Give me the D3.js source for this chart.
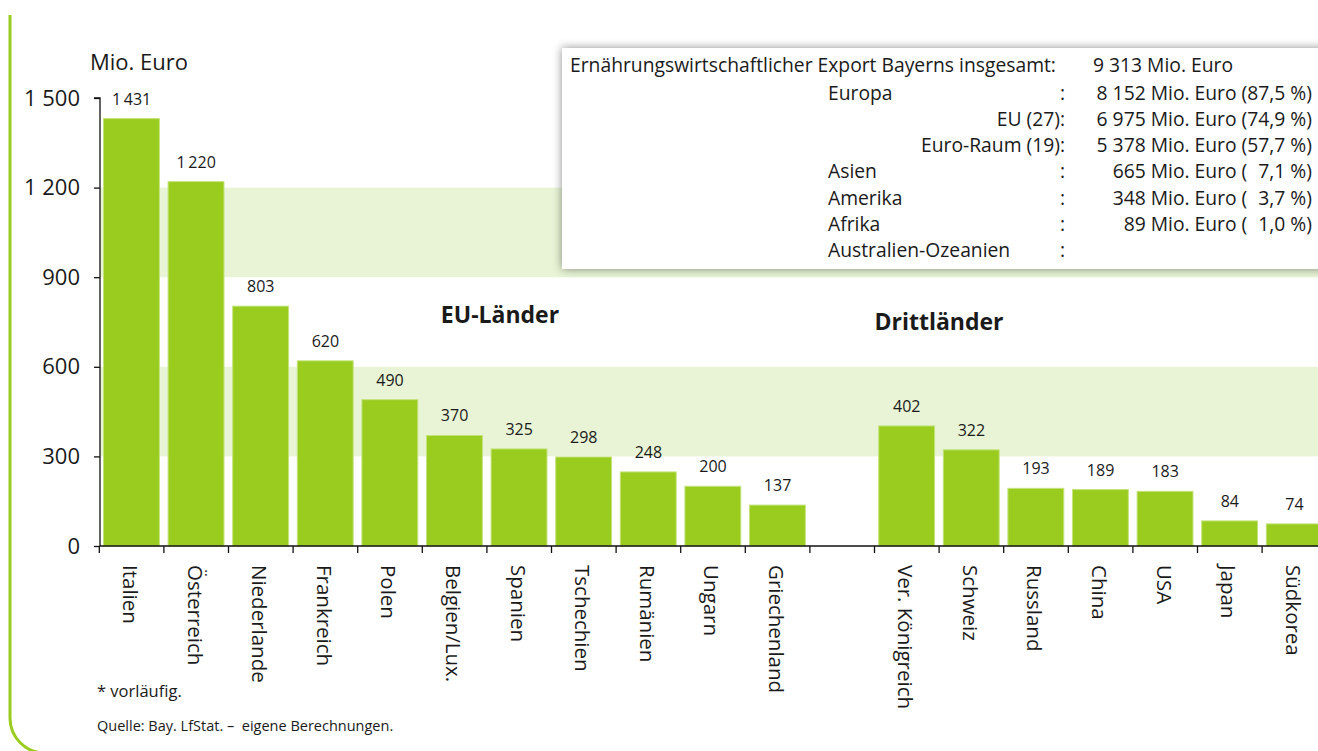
<!DOCTYPE html>
<html>
<head>
<meta charset="utf-8">
<script src="https://cdn.jsdelivr.net/npm/d3@7"></script>
<style>
  html, body { margin: 0; padding: 0; background: #ffffff; }
  svg { display: block; font-family: "Open Sans", "Noto Sans", sans-serif; }
  text { white-space: pre; fill: #1a1a1a; }
</style>
</head>
<body>
<svg id="chart" width="1318" height="751"></svg>
<script>
// ---------- data ----------
const categoriesEU = ["Italien", "Österreich", "Niederlande", "Frankreich", "Polen", "Belgien/Lux.", "Spanien", "Tschechien", "Rumänien", "Ungarn", "Griechenland"];
const valuesEU = [1431, 1220, 803, 620, 490, 370, 325, 298, 248, 200, 137];
const categoriesDritt = ["Ver. Königreich", "Schweiz", "Russland", "China", "USA", "Japan", "Südkorea"];
const valuesDritt = [402, 322, 193, 189, 183, 84, 74];
const yTicks = [0, 300, 600, 900, 1200, 1500];
const bands = [[300, 600], [900, 1200]];
const groupTitles = ["EU-Länder", "Drittländer"];
const infoLeft = ["Ernährungswirtschaftlicher Export Bayerns insgesamt:", "Europa", "", "", "Asien", "Amerika", "Afrika", "Australien-Ozeanien"];
const infoMid = ["", ":", "EU (27):", "Euro-Raum (19):", ":", ":", ":", ":"];
const infoValues = ["9 313 Mio. Euro", "8 152 Mio. Euro (87,5 %)", "6 975 Mio. Euro (74,9 %)", "5 378 Mio. Euro (57,7 %)", "665 Mio. Euro (\u20077,1 %)", "348 Mio. Euro (\u20073,7 %)", "89 Mio. Euro (\u20071,0 %)", ""];
const footnotes = ["* vorläufig.", "Quelle: Bay. LfStat. \u2013  eigene Berechnungen."];
const yUnit = "Mio. Euro";

// ---------- setup ----------
const svg = d3.select("#chart");
const W = 1318, H = 751;
const green = "#99cc1e";
const bandFill = "#e8f4d5";

const slots = [...categoriesEU, "__gap__", ...categoriesDritt];
const data = [
  ...categoriesEU.map((c, i) => ({ name: c, value: valuesEU[i] })),
  ...categoriesDritt.map((c, i) => ({ name: c, value: valuesDritt[i] }))
];

const x = d3.scaleBand().domain(slots).range([99.3, 99.3 + 19 * 64.6]).padding(0);
const y = d3.scaleLinear().domain([0, 1500]).range([546, 98]);
const loc = d3.formatLocale({ decimal: ",", thousands: "\u2009", grouping: [3], currency: ["", " €"] });
const fmtTick = d3.formatLocale({ decimal: ",", thousands: " ", grouping: [3], currency: ["", ""] }).format(",d");
const fmtVal = loc.format(",d");

const defs = svg.append("defs");
const f = defs.append("filter").attr("id", "shadow").attr("x", "-10%").attr("y", "-20%").attr("width", "130%").attr("height", "150%");
f.append("feDropShadow").attr("dx", 0).attr("dy", 0).attr("stdDeviation", 5).attr("flood-color", "#000").attr("flood-opacity", 0.45);

// frame (green rounded border on left/bottom)
svg.append("path")
  .attr("d", `M10,15 V718 A35,35 0 0 0 45,753 H${W + 10}`)
  .attr("fill", "none").attr("stroke", green).attr("stroke-width", 3);

// background bands
svg.append("g").selectAll("rect").data(bands).join("rect")
  .attr("x", 100).attr("width", W - 100)
  .attr("y", d => y(d[1])).attr("height", d => y(d[0]) - y(d[1]))
  .attr("fill", bandFill);

// bars
const bw = x.bandwidth();
svg.append("g").selectAll("rect").data(data).join("rect")
  .attr("x", d => x(d.name) + bw * 0.065)
  .attr("width", bw * 0.865)
  .attr("y", d => y(d.value))
  .attr("height", d => y(0) - y(d.value))
  .attr("fill", green)
  .attr("stroke", "#c4e37c").attr("stroke-width", 1);

// value labels
svg.append("g").selectAll("text").data(data).join("text")
  .attr("x", d => x(d.name) + bw / 2)
  .attr("y", d => y(d.value) - 14)
  .attr("text-anchor", "middle")
  .attr("font-size", 16)
  .attr("fill", "#222")
  .text(d => fmtVal(d.value));

// y axis
const yAxis = d3.axisLeft(y).tickValues(yTicks).tickSize(6).tickFormat(fmtTick);
const gy = svg.append("g").attr("transform", "translate(100,0)").call(yAxis);
gy.select(".domain").attr("d", `M-6,${y(1500)}H0V${y(0)}`).attr("stroke", "#111").attr("stroke-width", 1.3);
gy.selectAll(".tick line").attr("stroke", "#111").attr("stroke-width", 1.3);
gy.selectAll(".tick text").attr("x", -20).attr("font-size", 22).attr("font-family", "Open Sans").attr("fill", "#111");

svg.append("text").attr("x", 90).attr("y", 70).attr("font-size", 22).text(yUnit);

// x axis baseline and ticks at slot boundaries
const gx = svg.append("g");
gx.append("line").attr("x1", 100).attr("x2", W).attr("y1", y(0)).attr("y2", y(0))
  .attr("stroke", "#111").attr("stroke-width", 1.5);
gx.selectAll("line.tk").data(slots).join("line").attr("class", "tk")
  .attr("x1", d => x(d)).attr("x2", d => x(d))
  .attr("y1", y(0)).attr("y2", y(0) + 7)
  .attr("stroke", "#111").attr("stroke-width", 1.3);

// category labels
svg.append("g").selectAll("text").data(data).join("text")
  .attr("transform", d => `translate(${x(d.name) + bw / 2},565) rotate(90)`)
  .attr("dy", "0.42em")
  .attr("font-size", 20.5)
  .attr("fill", "#111")
  .text(d => d.name);

// group titles
svg.append("text").attr("x", 500).attr("y", 323).attr("text-anchor", "middle")
  .attr("font-size", 23).attr("font-weight", "bold").text(groupTitles[0]);
svg.append("text").attr("x", 939).attr("y", 330).attr("text-anchor", "middle")
  .attr("font-size", 23).attr("font-weight", "bold").text(groupTitles[1]);

// info box
const box = svg.append("g");
box.append("rect").attr("x", 562).attr("y", 48).attr("width", 780).attr("height", 221)
  .attr("fill", "#fff").attr("filter", "url(#shadow)");
const rowY = [72, 100, 126, 152, 178, 205, 231, 257];
const bt = box.append("g").attr("font-size", 19.3).attr("fill", "#111");
infoLeft.forEach((t, i) => {
  if (!t) return;
  bt.append("text").attr("x", i === 0 ? 570 : 828).attr("y", rowY[i]).text(t);
});
infoMid.forEach((t, i) => {
  if (!t) return;
  bt.append("text").attr("x", 1065).attr("y", rowY[i]).attr("text-anchor", "end").text(t);
});
infoValues.forEach((t, i) => {
  if (!t) return;
  if (i === 0) bt.append("text").attr("x", 1093).attr("y", rowY[i]).text(t);
  else bt.append("text").attr("x", 1312).attr("y", rowY[i]).attr("text-anchor", "end").text(t);
});

// footnotes
svg.append("text").attr("x", 97).attr("y", 697).attr("font-size", 16.5).text(footnotes[0]);
svg.append("text").attr("x", 97).attr("y", 731).attr("font-size", 14.5).text(footnotes[1]);
</script>
</body>
</html>
